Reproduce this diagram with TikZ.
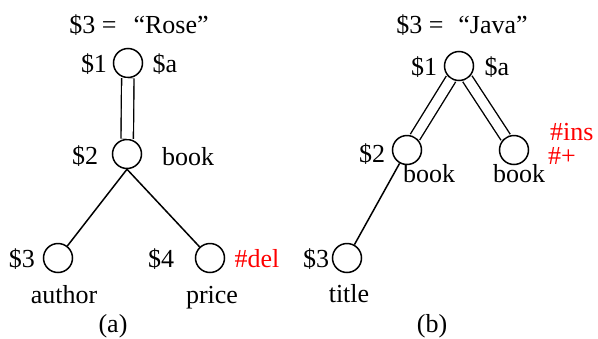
\documentclass[tikz,border=0pt]{standalone}
\usepackage{fontspec}
\setmainfont{Liberation Serif}
\begin{document}
\begin{tikzpicture}[x=1pt,y=-1pt,
  vtx/.style={circle,draw,line width=1.5pt,minimum size=29pt,inner sep=0pt},
  lbl/.style={anchor=base,inner sep=0pt,font=\fontsize{26}{30}\selectfont},
  red lbl/.style={lbl,text=red},
  edge/.style={line width=1.5pt},
  dbl/.style={double,double distance=9.5pt,line width=1.4pt}]
\useasboundingbox (0,0) rectangle (598,338);
% ---- (a)
\node[vtx] (n1) at (128,63) {};
\node[vtx] (n2) at (127,154) {};
\node[vtx] (n3) at (58,258) {};
\node[vtx] (n4) at (210,258) {};
\draw[dbl,double distance=11pt] (n1) -- (n2);
\draw[edge] (n2.south) -- (n3);
\draw[edge] (n2.south) -- (n4);
\node[lbl] (ta) at (139,33) {\$3 =\hspace{17pt}“Rose”};
\node[lbl] (l1) at (94,72) {\$1};
\node[lbl] (la) at (165,72) {\$a};
\node[lbl] (l2) at (85,164) {\$2};
\node[lbl] (lb) at (188,165) {book};
\node[lbl] (l3) at (22,267) {\$3};
\node[lbl] (lau) at (64,303) {author};
\node[lbl] (l4) at (161,267) {\$4};
\node[red lbl] (ld) at (257,267) {\#del};
\node[lbl] (lp) at (212,303) {price};
\node[lbl] (capa) at (113,332) {(a)};
% ---- (b)
\node[vtx] (m1) at (459,66) {};
\node[vtx] (m2) at (407,150) {};
\node[vtx] (m3) at (514,150) {};
\node[vtx] (m4) at (347,258) {};
\draw[dbl] (m1) -- (m2);
\draw[dbl] (m1) -- (m3);
\draw[edge] (m2) -- (m4);
\node[lbl] (tb) at (462,33) {\$3 =\hspace{15pt}“Java”};
\node[lbl] (k1) at (424,75) {\$1};
\node[lbl] (ka) at (497,75) {\$a};
\node[lbl] (k2) at (372,162) {\$2};
\node[lbl] (kb1) at (429,182) {book};
\node[lbl] (kb2) at (519,182) {book};
\node[red lbl,anchor=base west] (ki) at (550,140) {\#ins};
\node[red lbl,anchor=base west] (kp) at (548,164) {\#+};
\node[lbl] (k3) at (316,267) {\$3};
\node[lbl] (kt) at (349,302) {title};
\node[lbl] (capb) at (432,332) {(b)};
\end{tikzpicture}
\end{document}
